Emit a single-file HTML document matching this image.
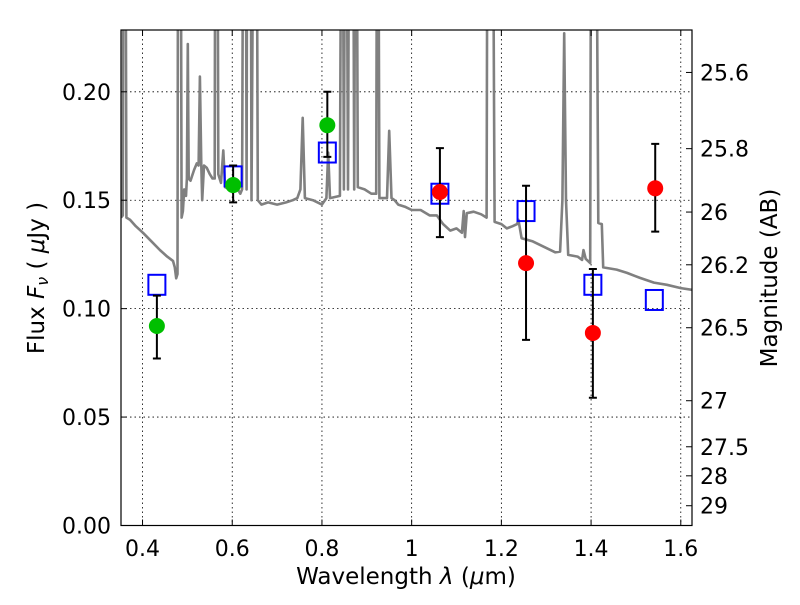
<!DOCTYPE html>
<html><head><meta charset="utf-8"><style>
body{margin:0;background:#fff}
svg text{font-family:"DejaVu Sans","Liberation Sans",sans-serif;fill:#000}
</style></head><body>
<svg id="chart" width="800" height="600" viewBox="0 0 800 600" xmlns="http://www.w3.org/2000/svg">
<defs><clipPath id="pc"><rect x="121" y="30" width="571" height="495.5"/></clipPath></defs>
<rect x="121" y="30" width="571" height="495.5" fill="#fff"/>
<g id="grid"></g>
<g id="spec" clip-path="url(#pc)"></g>
<g id="marks"></g>
<rect x="121" y="30" width="571" height="495.5" fill="none" stroke="#000" stroke-width="1.2"/>
<g id="axes"></g>
<text x="406" y="584" font-size="23" text-anchor="middle">Wavelength  <tspan font-style="italic">λ</tspan> (<tspan font-style="italic">μ</tspan>m)</text>
<text transform="translate(44,278) rotate(-90)" font-size="23" text-anchor="middle">Flux  <tspan font-style="italic">F</tspan><tspan font-style="italic" font-size="16" dy="4">ν</tspan><tspan dy="-4">  ( </tspan><tspan font-style="italic">μ</tspan>Jy )</text>
<text transform="translate(777,278) rotate(-90)" font-size="23" text-anchor="middle">Magnitude (AB)</text>
</svg>
<script>
const xTicks=[0.4,0.6,0.8,1.0,1.2,1.4,1.6];
const xTickLabels=["0.4","0.6","0.8","1","1.2","1.4","1.6"];
const yTicks=[0,0.05,0.1,0.15,0.2];
const yTickLabels=["0.00","0.05","0.10","0.15","0.20"];
const magTicks=[25.6,25.8,26,26.2,26.5,27,27.5,28,29];
const magTickLabels=["25.6","25.8","26","26.2","26.5","27","27.5","28","29"];
const specLam=[0.352,0.356,0.358,0.361,0.364,0.372,0.385,0.401,0.42,0.439,0.455,0.468,0.472,0.475,0.478,0.480,0.484,0.487,0.490,0.493,0.497,0.499,0.501,0.503,0.507,0.515,0.521,0.525,0.528,0.531,0.533,0.537,0.543,0.550,0.556,0.561,0.563,0.566,0.569,0.575,0.580,0.584,0.595,0.610,0.618,0.622,0.626,0.629,0.632,0.634,0.637,0.640,0.643,0.650,0.653,0.657,0.665,0.680,0.700,0.720,0.735,0.745,0.752,0.757,0.762,0.780,0.800,0.810,0.814,0.818,0.840,0.845,0.849,0.853,0.858,0.862,0.868,0.872,0.876,0.880,0.895,0.910,0.921,0.924,0.928,0.935,0.945,0.950,0.955,0.962,0.970,0.985,1.00,1.02,1.04,1.056,1.07,1.086,1.10,1.112,1.116,1.119,1.123,1.138,1.155,1.167,1.170,1.179,1.185,1.20,1.212,1.225,1.235,1.238,1.245,1.27,1.30,1.32,1.331,1.336,1.340,1.344,1.349,1.37,1.38,1.383,1.388,1.398,1.401,1.409,1.416,1.424,1.427,1.457,1.48,1.509,1.54,1.569,1.60,1.625];
const specFlux=[0.142,0.143,0.40,0.40,0.142,0.141,0.138,0.135,0.131,0.127,0.124,0.122,0.119,0.114,0.116,0.40,0.40,0.142,0.145,0.155,0.152,0.160,0.222,0.160,0.159,0.164,0.167,0.166,0.207,0.166,0.150,0.166,0.165,0.162,0.160,0.160,0.40,0.40,0.162,0.158,0.173,0.156,0.155,0.156,0.153,0.155,0.40,0.40,0.155,0.40,0.40,0.40,0.150,0.40,0.40,0.150,0.148,0.149,0.148,0.149,0.150,0.151,0.155,0.188,0.151,0.150,0.148,0.151,0.172,0.151,0.152,0.40,0.155,0.40,0.155,0.40,0.40,0.155,0.40,0.156,0.155,0.153,0.153,0.40,0.151,0.151,0.151,0.182,0.151,0.150,0.148,0.147,0.1455,0.1455,0.143,0.143,0.139,0.136,0.137,0.135,0.145,0.133,0.144,0.1447,0.1435,0.142,0.40,0.40,0.140,0.139,0.137,0.138,0.139,0.141,0.1325,0.131,0.128,0.126,0.1263,0.15,0.227,0.15,0.1248,0.124,0.1225,0.127,0.123,0.121,0.40,0.40,0.1395,0.139,0.119,0.118,0.1165,0.1142,0.112,0.111,0.1095,0.1087];
const obsLam=[0.432,0.602,0.812];
const obsFlux=[0.092,0.157,0.1846];
const obsLo=[0.077,0.149,0.170];
const obsHi=[0.106,0.166,0.200];
const nirLam=[1.063,1.255,1.404,1.543];
const nirFlux=[0.1538,0.121,0.0888,0.1555];
const nirLo=[0.133,0.0856,0.0589,0.1355];
const nirHi=[0.174,0.1567,0.1183,0.176];
const modLam=[0.432,0.602,0.812,1.063,1.255,1.404,1.541];
const modFlux=[0.111,0.161,0.172,0.153,0.145,0.111,0.104];

const X0=121,X1=692,Y0=525.5,Y1=30,XMIN=0.352,XMAX=1.625,YMIN=0,YMAX=0.2285;
const sx=v=>X0+(v-XMIN)/(XMAX-XMIN)*(X1-X0);
const sy=v=>Y0-(v-YMIN)/(YMAX-YMIN)*(Y0-Y1);
const magToFlux=m=>Math.pow(10,(23.9-m)/2.5);
const NS="http://www.w3.org/2000/svg";
function mk(tag,attrs,parent){const e=document.createElementNS(NS,tag);for(const k in attrs)e.setAttribute(k,attrs[k]);parent.appendChild(e);return e;}
const grid=document.getElementById('grid'),axes=document.getElementById('axes'),spec=document.getElementById('spec'),marks=document.getElementById('marks');

xTicks.forEach((t,i)=>{const x=sx(t);
 const g=mk('line',{x1:x,x2:x,y1:Y1,y2:Y0,stroke:'#000','stroke-width':0.8,'stroke-dasharray':'1.5,3'},grid);
 
 const a=mk('line',{x1:x,x2:x,y1:Y0,y2:Y0-6,stroke:'#000'},axes);
 const b=mk('line',{x1:x,x2:x,y1:Y1,y2:Y1+6,stroke:'#000'},axes);
 const l=mk('text',{x:x,y:556,'font-size':22,'text-anchor':'middle'},axes);l.textContent=xTickLabels[i];
 
});
yTicks.forEach((t,i)=>{const y=sy(t);
 if(t>0){const g=mk('line',{x1:X0,x2:X1,y1:y,y2:y,stroke:'#000','stroke-width':0.8,'stroke-dasharray':'1.5,3'},grid);
 }
 const a=mk('line',{x1:X0,x2:X0+6,y1:y,y2:y,stroke:'#000'},axes);
 const l=mk('text',{x:111,y:y+8,'font-size':22,'text-anchor':'end'},axes);l.textContent=yTickLabels[i];
 
});
magTicks.forEach((m,i)=>{const y=sy(magToFlux(m));
 const a=mk('line',{x1:X1,x2:X1-6,y1:y,y2:y,stroke:'#000'},axes);
 const l=mk('text',{x:700,y:y+8,'font-size':22},axes);l.textContent=magTickLabels[i];
 
});
let d='';specLam.forEach((l,i)=>{d+=(i?'L':'M')+sx(l).toFixed(1)+','+sy(specFlux[i]).toFixed(1);});
const p=mk('path',{d:d,fill:'none',stroke:'#808080','stroke-width':2.6,'stroke-linejoin':'round'},spec);


function errbar(l,lo,hi){const x=sx(l),a=sy(lo),b=sy(hi);
 const e=mk('path',{d:`M${x},${a}L${x},${b}M${x-4},${a}L${x+4},${a}M${x-4},${b}L${x+4},${b}`,stroke:'#000','stroke-width':2,fill:'none'},marks);
 }
modLam.forEach((l,i)=>{const r=mk('rect',{x:sx(l)-8.5,y:sy(modFlux[i])-10,width:17,height:20,fill:'none',stroke:'#0000ff','stroke-width':2},marks);
 });
obsLam.forEach((l,i)=>{errbar(l,obsLo[i],obsHi[i]);});
nirLam.forEach((l,i)=>{errbar(l,nirLo[i],nirHi[i]);});
obsLam.forEach((l,i)=>{const c=mk('circle',{cx:sx(l),cy:sy(obsFlux[i]),r:8,fill:'#00bf00'},marks);
 });
nirLam.forEach((l,i)=>{const c=mk('circle',{cx:sx(l),cy:sy(nirFlux[i]),r:8,fill:'#ff0000'},marks);
 });
</script>
</body></html>
